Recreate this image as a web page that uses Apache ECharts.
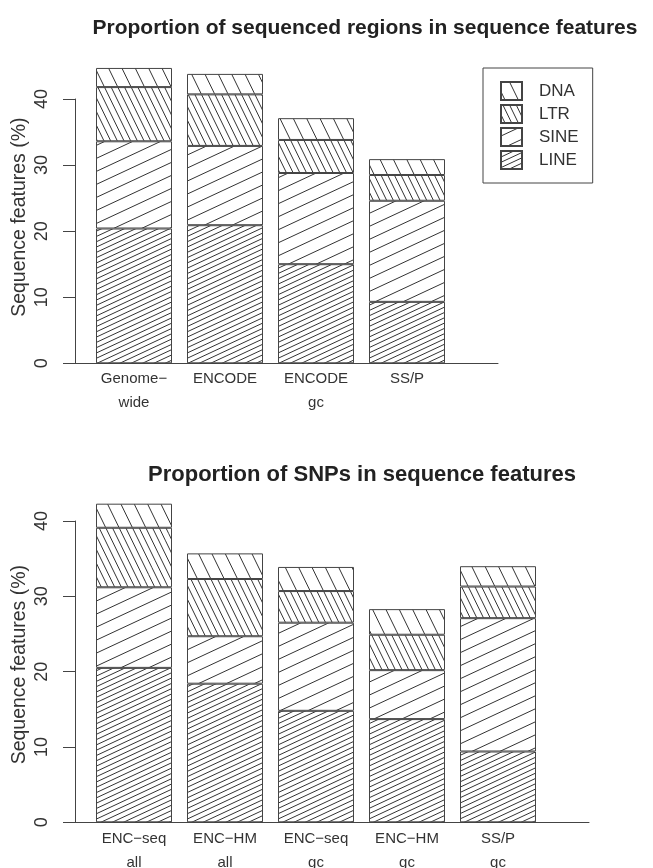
<!DOCTYPE html>
<html>
<head>
<meta charset="UTF-8">
<title>Sequence features</title>
<script src="https://cdn.jsdelivr.net/npm/echarts@6/dist/echarts.min.js"></script>
<style>
html, body { margin: 0; padding: 0; background: #fff; }
#main { width: 653px; height: 868px; }
</style>
</head>
<body>
<div id="main"></div>
<script>
// top panel: sequenced regions
var regionCats = ['Genome\u2212\nwide', 'ENCODE', 'ENCODE\ngc', 'SS/P'];
var regionLINE = [20.4, 20.9, 15.0, 9.3];
var regionSINE = [13.2, 12.0, 13.8, 15.3];
var regionLTR  = [8.2, 7.8, 5.0, 3.9];
var regionDNA  = [2.9, 3.1, 3.3, 2.4];

// bottom panel: SNPs
var snpCats = ['ENC\u2212seq\nall', 'ENC\u2212HM\nall', 'ENC\u2212seq\ngc', 'ENC\u2212HM\ngc', 'SS/P\ngc'];
var snpLINE = [20.5, 18.4, 14.8, 13.7, 9.4];
var snpSINE = [10.7, 6.3, 11.7, 6.5, 17.7];
var snpLTR  = [7.9, 7.6, 4.2, 4.7, 4.2];
var snpDNA  = [3.2, 3.4, 3.2, 3.4, 2.7];

var yTicks = [0, 10, 20, 30, 40];
var legendOrder = ['DNA', 'LTR', 'SINE', 'LINE'];

var ink = '#333';
var font = '"Liberation Sans", Arial, sans-serif';

// hatch fill drawn on a canvas big enough to cover the page (no visible seams)
function makeHatch(angleDeg, gap) {
	var c = document.createElement('canvas');
	c.width = 660;
	c.height = 880;
	var ctx = c.getContext('2d');
	ctx.fillStyle = '#fff';
	ctx.fillRect(0, 0, c.width, c.height);
	ctx.strokeStyle = ink;
	ctx.lineWidth = 1;
	var a = angleDeg * Math.PI / 180;
	var dx = Math.cos(a), dy = -Math.sin(a);
	var nx = -dy, ny = dx;
	var L = 2000, cx = c.width / 2, cy = c.height / 2;
	var n = Math.ceil(1200 / gap);
	ctx.beginPath();
	for (var k = -n; k <= n; k++) {
		var px = cx + nx * k * gap, py = cy + ny * k * gap;
		ctx.moveTo(px - dx * L, py - dy * L);
		ctx.lineTo(px + dx * L, py + dy * L);
	}
	ctx.stroke();
	return { image: c, repeat: 'repeat' };
}

var fills = {
	LINE: makeHatch(25, 4.8),
	SINE: makeHatch(25, 11.8),
	LTR: makeHatch(116, 6.0),
	DNA: makeHatch(116, 12.0)
};

function barSeries(name, data, idx, stack) {
	return {
		name: name,
		type: 'bar',
		stack: stack,
		xAxisIndex: idx,
		yAxisIndex: idx,
		barWidth: 76,
		clip: false,
		data: data,
		itemStyle: { color: fills[name], borderColor: '#444', borderWidth: 1 },
		emphasis: { disabled: true }
	};
}

function catAxis(grid, cats, margin) {
	return {
		type: 'category', gridIndex: grid, data: cats,
		axisLine: { show: false }, axisTick: { show: false },
		axisLabel: { fontSize: 15, lineHeight: 24, margin: margin, color: ink, interval: 0 }
	};
}

function baseAxis(grid) {
	return {
		type: 'value', gridIndex: grid, min: 0, max: 1,
		axisLine: { show: true, lineStyle: { color: '#444', width: 1 } },
		axisTick: { show: false }, axisLabel: { show: false }, splitLine: { show: false }
	};
}

function valAxis(grid, namePad) {
	return {
		type: 'value', gridIndex: grid, min: yTicks[0], max: yTicks[yTicks.length - 1], interval: 10,
		offset: 13.5,
		axisLine: { show: true, lineStyle: { color: '#444', width: 1 } },
		axisTick: { show: true, length: 12, lineStyle: { color: '#444' } },
		axisLabel: { rotate: 90, fontSize: 18, margin: 24, color: ink },
		splitLine: { show: false },
		name: 'Sequence features (%)',
		nameLocation: 'middle',
		nameRotate: 90,
		nameGap: 45,
		nameMoveOverlap: false,
		nameTextStyle: { fontSize: 19.5, color: ink, padding: [0, 0, 0, namePad] }
	};
}

function hiddenY(grid) {
	return { type: 'value', gridIndex: grid, min: 0, max: 40, show: false };
}

var myChart = echarts.init(document.getElementById('main'));

var option = {
	animation: false,
	textStyle: { fontFamily: font },
	title: [{
		text: 'Proportion of sequenced regions in sequence features',
		left: 360, top: 13, textAlign: 'center',
		textStyle: { fontSize: 21, fontWeight: 'bold', color: '#222', fontFamily: font }
	}, {
		text: 'Proportion of SNPs in sequence features',
		left: 357, top: 459, textAlign: 'center',
		textStyle: { fontSize: 22, fontWeight: 'bold', color: '#222', fontFamily: font }
	}],
	legend: {
		data: legendOrder,
		orient: 'vertical',
		left: 483, top: 68,
		padding: [13, 14, 13, 17],
		itemWidth: 21, itemHeight: 18, itemGap: 3,
		borderColor: '#444', borderWidth: 1, borderRadius: 0,
		icon: 'rect',
		selectedMode: false,
		textStyle: { fontSize: 17, lineHeight: 18, color: ink, padding: [0, 0, 0, 12] }
	},
	grid: [
		{ left: 88.5, top: 99, width: 364, height: 264.3, outerBoundsMode: 'none' },
		{ left: 75, top: 99, width: 423, height: 264.3, outerBoundsMode: 'none' },
		{ left: 88.5, top: 521, width: 455, height: 301.3, outerBoundsMode: 'none' },
		{ left: 75, top: 521, width: 514, height: 301.3, outerBoundsMode: 'none' }
	],
	xAxis: [catAxis(0, regionCats, 4), baseAxis(1), catAxis(2, snpCats, 5), baseAxis(3)],
	yAxis: [valAxis(0, 28), hiddenY(1), valAxis(2, 14), hiddenY(3)],
	series: [
		barSeries('LINE', regionLINE, 0, 'reg'),
		barSeries('SINE', regionSINE, 0, 'reg'),
		barSeries('LTR', regionLTR, 0, 'reg'),
		barSeries('DNA', regionDNA, 0, 'reg'),
		barSeries('LINE', snpLINE, 2, 'snp'),
		barSeries('SINE', snpSINE, 2, 'snp'),
		barSeries('LTR', snpLTR, 2, 'snp'),
		barSeries('DNA', snpDNA, 2, 'snp')
	]
};

myChart.setOption(option);
</script>
</body>
</html>
